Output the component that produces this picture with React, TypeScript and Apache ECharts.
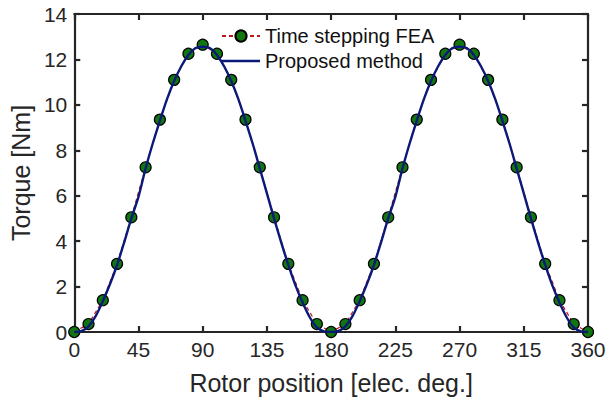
import React, { useEffect, useRef } from "react";
import * as echarts from "echarts";

const feaAngles = [0, 10, 20, 30, 40, 50, 60, 70, 80, 90, 100, 110, 120, 130, 140, 150, 160, 170, 180, 190, 200, 210, 220, 230, 240, 250, 260, 270, 280, 290, 300, 310, 320, 330, 340, 350, 360];
const feaTorque = [0, 0.35, 1.4, 3.0, 5.05, 7.25, 9.35, 11.1, 12.25, 12.65, 12.25, 11.1, 9.35, 7.25, 5.05, 3.0, 1.4, 0.35, 0, 0.35, 1.4, 3.0, 5.05, 7.25, 9.35, 11.1, 12.25, 12.65, 12.25, 11.1, 9.35, 7.25, 5.05, 3.0, 1.4, 0.35, 0];

const modelAngles = [0, 5, 10, 15, 20, 25, 30, 35, 40, 45, 50, 55, 60, 65, 70, 75, 80, 85, 90, 95, 100, 105, 110, 115, 120, 125, 130, 135, 140, 145, 150, 155, 160, 165, 170, 175, 180, 185, 190, 195, 200, 205, 210, 215, 220, 225, 230, 235, 240, 245, 250, 255, 260, 265, 270, 275, 280, 285, 290, 295, 300, 305, 310, 315, 320, 325, 330, 335, 340, 345, 350, 355, 360];
const modelTorque = [0, 0.04, 0.25, 0.7, 1.35, 2.1, 2.95, 3.95, 5.0, 5.95, 7.2, 8.3, 9.3, 10.25, 11.05, 11.7, 12.2, 12.5, 12.56, 12.5, 12.2, 11.7, 11.05, 10.25, 9.3, 8.3, 7.2, 6.1, 5.0, 3.95, 2.95, 2.05, 1.3, 0.65, 0.2, 0.03, 0, 0.04, 0.25, 0.7, 1.35, 2.1, 2.95, 3.95, 5.0, 5.95, 7.2, 8.3, 9.3, 10.25, 11.05, 11.7, 12.2, 12.5, 12.56, 12.5, 12.2, 11.7, 11.05, 10.25, 9.3, 8.3, 7.2, 6.1, 5.0, 3.95, 2.95, 2.05, 1.3, 0.65, 0.2, 0.03, 0];

const seriesNames = ["Time stepping FEA", "Proposed method"];
const xTitle = "Rotor position [elec. deg.]";
const yTitle = "Torque [Nm]";

export default function App() {
  const ref = useRef<HTMLDivElement>(null);
  useEffect(() => {
    if (!ref.current) return;
    const chart = echarts.init(ref.current, undefined, { renderer: "svg" });
    const font = "'Liberation Sans', Arial, Helvetica, sans-serif";
    const axisColor = "#262626";
    const baseX = {
      type: "value" as const,
      min: 0,
      max: 360,
      interval: 45,
      splitLine: { show: false },
      axisLine: { show: true, onZero: false, lineStyle: { color: axisColor, width: 2.2 } },
      axisTick: { show: true, inside: true, length: 6, lineStyle: { color: axisColor, width: 2.2 } },
    };
    const baseY = {
      type: "value" as const,
      min: 0,
      max: 14,
      interval: 2,
      splitLine: { show: false },
      axisLine: { show: true, onZero: false, lineStyle: { color: axisColor, width: 2.2 } },
      axisTick: { show: true, inside: true, length: 6, lineStyle: { color: axisColor, width: 2.2 } },
    };
    chart.setOption({
      animation: false,
      backgroundColor: "#ffffff",
      textStyle: { fontFamily: font },
      grid: { left: 69, right: 22, top: 14, bottom: 69, containLabel: false },
      legend: {
        orient: "vertical",
        left: 216,
        top: 21,
        itemWidth: 38,
        itemHeight: 14,
        itemGap: 5,
        symbolKeepAspect: true,
        textStyle: { fontSize: 20, color: "#111", fontFamily: font },
        data: [
          { name: seriesNames[0] },
          { name: seriesNames[1], icon: "path://M0,0 L40,0 L40,2.6 L0,2.6 Z" },
        ],
      },
      xAxis: [
        {
          ...baseX,
          position: "bottom",
          name: xTitle,
          nameLocation: "middle",
          nameGap: 38,
          nameTextStyle: { fontSize: 25, color: "#262626", fontFamily: font },
          axisLabel: { fontSize: 21, color: "#262626", margin: 7, fontFamily: font },
        },
        {
          ...baseX,
          position: "top",
          axisLabel: { show: false },
        },
      ],
      yAxis: [
        {
          ...baseY,
          position: "left",
          name: yTitle,
          nameLocation: "middle",
          nameGap: 38,
          nameTextStyle: { fontSize: 25, color: "#262626", fontFamily: font },
          axisLabel: { fontSize: 21, color: "#262626", margin: 7, fontFamily: font },
        },
        {
          ...baseY,
          position: "right",
          axisLabel: { show: false },
        },
      ],
      series: [
        {
          name: seriesNames[0],
          type: "line",
          data: feaAngles.map((a, i) => [a, feaTorque[i]]),
          symbol: "circle",
          symbolSize: 11,
          showAllSymbol: true,
          clip: false,
          lineStyle: { color: "#c0141c", width: 1.2, type: [4, 3] },
          itemStyle: { color: "#11760f", borderColor: "#000", borderWidth: 1.2 },
          z: 2,
        },
        {
          name: seriesNames[1],
          type: "line",
          data: modelAngles.map((a, i) => [a, modelTorque[i]]),
          smooth: 0.3,
          symbol: "none",
          lineStyle: { color: "#0b1a78", width: 2.4 },
          itemStyle: { color: "#0b1a78" },
          z: 3,
        },
      ],
    });
    return () => chart.dispose();
  }, []);
  return (
    <div
      ref={ref}
      style={{ position: "fixed", left: 0, top: 0, width: 610, height: 401 }}
    />
  );
}
